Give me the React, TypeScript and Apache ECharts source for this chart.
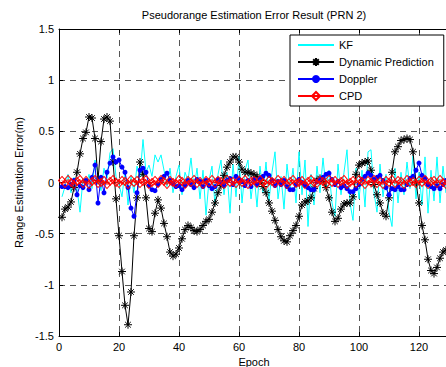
import React, { useEffect, useRef } from "react";
import * as echarts from "echarts";

const epochs: number[] = Array.from({ length: 130 }, (_, i) => i + 1);

const kfValues: number[] = [
  -0.14, -0.04, 0.08, -0.1, 0.05, -0.06, -0.29, 0.04, -0.02, 0.08,
  -0.06, 0.22, 0.1, -0.08, 0.14, 0.04, 0.29, 0.33, 0.06, -0.02,
  -0.14, 0.12, -0.22, 0.06, -0.1, 0.16, 0.06, 0.42, 0.1, 0.17,
  0.06, 0.27, 0.2, 0.27, 0.12, -0.04, 0.14, -0.1, 0.06, 0.17,
  -0.12, 0.1, 0.02, 0.24, -0.06, 0.14, -0.16, 0.12, -0.32, 0.02,
  0.16, -0.22, 0.08, 0.22, -0.12, 0.1, -0.3, 0.18, -0.14, 0.26,
  -0.2, 0.12, 0.22, -0.16, 0.08, -0.24, 0.16, -0.1, 0.2, -0.18,
  0.1, 0.3, -0.16, 0.06, -0.26, 0.18, -0.08, 0.14, -0.2, 0.3,
  -0.12, 0.22, -0.43, 0.08, -0.22, 0.16, -0.1, 0.24, -0.06, 0.12,
  -0.2, -0.33, 0.18, -0.12, 0.1, 0.32, -0.2, -0.37, 0.14, -0.16,
  0.12, -0.24, 0.3, 0.32, -0.1, -0.29, 0.18, -0.14, 0.08, -0.29,
  -0.43, 0.14, -0.2, 0.1, -0.12, 0.2, -0.06, 0.26, -0.16, 0.1,
  -0.22, 0.25, -0.3, 0.12, -0.18, 0.25, -0.2, 0.16, -0.1, 0.22,
];

const dynamicValues: number[] = [
  -0.34, -0.26, -0.24, -0.19, -0.05, 0.1, 0.28, 0.43, 0.49, 0.64,
  0.63, 0.43, 0.02, 0.4, 0.62, 0.64, 0.6, 0.2, -0.16, -0.52,
  -0.87, -1.2, -1.39, -1.07, -0.52, -0.15, 0.2, 0.08, -0.15, -0.45,
  -0.48, -0.3, -0.17, -0.25, -0.4, -0.53, -0.68, -0.72, -0.7, -0.64,
  -0.55, -0.46, -0.42, -0.44, -0.47, -0.48, -0.46, -0.42, -0.38, -0.36,
  -0.29, -0.2, -0.1, -0.03, 0.07, 0.15, 0.2, 0.25, 0.25, 0.2,
  0.13, 0.1, 0.1, 0.09, 0.08, 0.06, 0.02, -0.04, -0.1, -0.2,
  -0.28, -0.37, -0.46, -0.53, -0.57, -0.58, -0.52, -0.47, -0.42, -0.33,
  -0.22, -0.19, -0.18, -0.15, -0.06, 0.02, 0.04, 0.01, -0.05, -0.15,
  -0.29, -0.38, -0.35, -0.26, -0.21, -0.2, -0.2, -0.14, 0.08, 0.17,
  0.19, 0.2, 0.21, 0.12, -0.02, -0.12, -0.2, -0.3, -0.33, -0.15,
  0.1, 0.3, 0.35, 0.41, 0.42, 0.43, 0.42, 0.3, 0.0, -0.2,
  -0.42, -0.56, -0.75, -0.86, -0.89, -0.83, -0.74, -0.68, -0.66, -0.65,
];

const dopplerValues: number[] = [
  -0.04, -0.04, -0.05, -0.02, 0.02, -0.12, -0.03, -0.05, 0.02, -0.07,
  0.05, 0.17, -0.2, 0.05, -0.1, 0.1, 0.19, 0.25, 0.2, 0.22,
  0.15, 0.1, -0.05, -0.25, -0.33, -0.1, 0.12, 0.14, 0.1, -0.03,
  -0.07, -0.08, -0.02, 0.03, 0.06, 0.09, 0.02, -0.01, -0.04, -0.03,
  -0.07, -0.03, 0.02, -0.02, -0.05, 0.03, 0.01, -0.04, 0.02, -0.03,
  -0.06, -0.04, 0.03, 0.0, -0.03, 0.02, 0.04, -0.02, 0.06, 0.03,
  0.01, -0.03, 0.02, -0.04, 0.03, -0.02, 0.04, 0.06, 0.09, 0.07,
  0.02, -0.03, 0.01, -0.02, 0.02, -0.04, -0.07, -0.07, -0.02, 0.03,
  0.0, -0.03, -0.05, -0.07, -0.07, 0.01, 0.03, 0.05, 0.08, 0.09,
  0.03, -0.02, 0.01, -0.05, -0.03, -0.06, -0.09, -0.09, -0.06, -0.02,
  0.03, 0.06, 0.09, 0.07, 0.03, 0.05, 0.07, 0.02, -0.05, -0.12,
  -0.06, -0.07, -0.04, -0.07, -0.07, -0.02, 0.04, 0.06, 0.12, 0.19,
  0.07, 0.04, -0.02, -0.04, -0.06, -0.03, -0.06, -0.02, 0.02, -0.01,
];

const cpdValues: number[] = [
  0.02, -0.01, 0.03, 0.0, -0.02, 0.01, 0.03, -0.01, 0.02, -0.02,
  0.01, 0.03, -0.01, 0.0, 0.02, -0.02, 0.01, 0.03, 0.0, -0.01,
  0.02, 0.01, -0.02, 0.03, 0.0, 0.02, -0.01, 0.01, 0.03, -0.02,
  0.0, 0.02, -0.01, 0.03, 0.01, -0.02, 0.02, 0.0, -0.01, 0.03,
  0.01, -0.02, 0.02, 0.0, 0.03, -0.01, 0.01, -0.02, 0.02, 0.0,
  0.03, -0.01, 0.02, 0.01, -0.02, 0.03, 0.0, 0.01, -0.01, 0.02,
  0.0, 0.03, -0.02, 0.01, 0.02, -0.01, 0.03, 0.0, -0.02, 0.02,
  0.01, -0.01, 0.03, 0.0, 0.02, -0.02, 0.01, 0.03, -0.01, 0.0,
  0.02, -0.02, 0.01, 0.03, 0.0, -0.01, 0.02, 0.01, -0.02, 0.03,
  0.0, 0.02, -0.01, 0.01, 0.03, -0.02, 0.0, 0.02, -0.01, 0.03,
  0.01, -0.02, 0.02, 0.0, 0.03, -0.01, 0.01, -0.02, 0.02, 0.0,
  0.03, -0.01, 0.02, 0.01, -0.02, 0.03, 0.0, 0.01, -0.01, 0.02,
  0.0, 0.03, -0.02, 0.01, 0.02, -0.01, 0.03, 0.0, -0.02, 0.01,
];

const seriesNames = ["KF", "Dynamic Prediction", "Doppler", "CPD"];
const yTicks = { min: -1.5, max: 1.5, interval: 0.5 };
const xTicks = { min: 0, max: 130, interval: 20 };

const FONT = "'Liberation Sans', Arial, Helvetica, sans-serif";
const ASTERISK =
  "path://M5 0L5 10M0 5L10 5M1.5 1.5L8.5 8.5M1.5 8.5L8.5 1.5";
const DIAMOND = "path://M5 0L10 7L5 14L0 7Z";

const pair = (vals: number[]) => epochs.map((e, i) => [e, vals[i]]);

export default function App() {
  const ref = useRef<HTMLDivElement>(null);

  useEffect(() => {
    if (!ref.current) return;
    const chart = echarts.init(ref.current, null, { renderer: "svg" });
    const axisLabel = { color: "#000", fontSize: 11, fontFamily: FONT };
    const split = { show: true, lineStyle: { color: "#555", width: 1, type: [6, 5] as any } };
    chart.setOption({
      animation: false,
      backgroundColor: "#fff",
      textStyle: { fontFamily: FONT },
      graphic: [
        {
          type: "text",
          x: 254,
          y: 15,
          style: {
            text: "Pseudorange Estimation Error Result (PRN 2)",
            font: `11px ${FONT}`,
            fill: "#000",
            textAlign: "center",
            textVerticalAlign: "middle",
          },
        },
      ],
      grid: {
        left: 59,
        top: 29,
        width: 390,
        height: 307,
        outerBoundsMode: "none",
        show: false,
      },
      legend: {
        orient: "vertical",
        left: 290,
        top: 35,
        data: [
          { name: seriesNames[0], itemStyle: { opacity: 0 } },
          { name: seriesNames[1] },
          { name: seriesNames[2] },
          { name: seriesNames[3] },
        ],
        backgroundColor: "#fff",
        borderColor: "#000",
        borderWidth: 1,
        borderRadius: 0,
        padding: [4, 10, 4, 7],
        itemWidth: 36,
        itemHeight: 10,
        itemGap: 5,
        selectedMode: false,
        textStyle: { color: "#000", fontSize: 11, fontFamily: FONT, lineHeight: 12 },
      },
      xAxis: [
        {
          type: "value",
          position: "bottom",
          ...xTicks,
          axisLine: { show: true, onZero: false, lineStyle: { color: "#000", width: 1 } },
          axisTick: { show: true, inside: true, length: 4, lineStyle: { color: "#000" } },
          axisLabel: { ...axisLabel, margin: 5, showMaxLabel: false },
          splitLine: split,
          name: "Epoch",
          nameLocation: "middle",
          nameGap: 19,
          nameTextStyle: { color: "#000", fontSize: 11, fontFamily: FONT },
        },
        {
          type: "value",
          position: "top",
          ...xTicks,
          axisLine: { show: true, onZero: false, lineStyle: { color: "#000", width: 1 } },
          axisTick: { show: true, inside: true, length: 4, lineStyle: { color: "#000" } },
          axisLabel: { show: false },
          splitLine: { show: false },
        },
      ],
      yAxis: [
        {
          type: "value",
          ...yTicks,
          axisLine: { show: true, onZero: false, lineStyle: { color: "#000", width: 1 } },
          axisTick: { show: true, inside: true, length: 4, lineStyle: { color: "#000" } },
          axisLabel: { ...axisLabel, margin: 5 },
          splitLine: split,
          name: "Range Estimation Error(m)",
          nameLocation: "middle",
          nameGap: 29,
          nameTextStyle: { color: "#000", fontSize: 11, fontFamily: FONT },
        },
      ],
      series: [
        {
          name: seriesNames[0],
          type: "line",
          data: pair(kfValues),
          symbol: "none",
          lineStyle: { color: "#00ffff", width: 1 },
          itemStyle: { color: "#00ffff" },
          z: 2,
        },
        {
          name: seriesNames[1],
          type: "line",
          data: pair(dynamicValues),
          symbol: ASTERISK,
          symbolSize: 8,
          showAllSymbol: true,
          lineStyle: { color: "#000", width: 1 },
          itemStyle: { color: "#000", borderColor: "#000", borderWidth: 1 },
          z: 3,
        },
        {
          name: seriesNames[2],
          type: "line",
          data: pair(dopplerValues),
          symbol: "circle",
          symbolSize: 5,
          showAllSymbol: true,
          lineStyle: { color: "#0000ff", width: 1 },
          itemStyle: { color: "#0000ff" },
          z: 4,
        },
        {
          name: seriesNames[3],
          type: "line",
          data: pair(cpdValues),
          symbol: DIAMOND,
          symbolSize: [7, 8],
          showAllSymbol: true,
          lineStyle: { color: "#ff0000", width: 1 },
          itemStyle: { color: "rgba(255,255,255,0)", borderColor: "#ff0000", borderWidth: 1 },
          z: 5,
        },
      ],
    });
    return () => chart.dispose();
  }, []);

  return (
    <div
      style={{
        position: "fixed",
        left: 0,
        top: 0,
        width: 446,
        height: 367,
        overflow: "hidden",
        background: "#fff",
      }}
    >
      <div ref={ref} style={{ width: 452, height: 367 }} />
    </div>
  );
}
